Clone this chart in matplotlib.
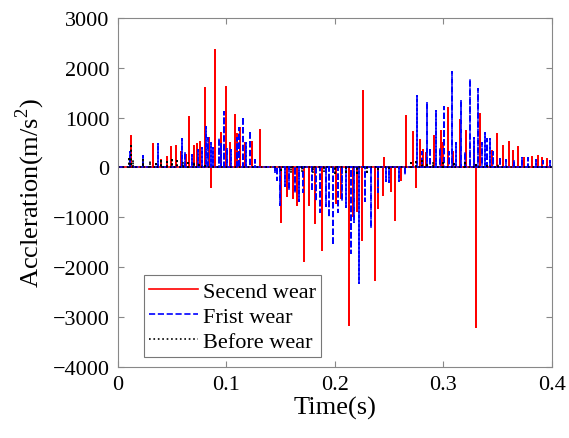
import numpy as np
import matplotlib
matplotlib.use('Agg')
import matplotlib.pyplot as plt

plt.rcParams['font.family'] = 'Liberation Serif'
plt.rcParams['mathtext.fontset'] = 'custom'
plt.rcParams['mathtext.rm'] = 'Liberation Serif'

# spike times (s) and peak values (m/s^2)
t_second = [0.012, 0.032, 0.040, 0.045, 0.049, 0.054, 0.058, 0.063, 0.066, 0.070, 0.073, 0.076,
            0.080, 0.084, 0.086, 0.090, 0.095, 0.0995, 0.103, 0.108, 0.110, 0.113, 0.117, 0.1235, 0.131,
            0.150, 0.156, 0.161, 0.165, 0.172, 0.176, 0.182, 0.188, 0.2015, 0.2055, 0.213, 0.2165,
            0.220, 0.225, 0.226, 0.237, 0.240, 0.244, 0.245, 0.252, 0.255, 0.261, 0.266, 0.272, 0.275,
            0.278, 0.281, 0.284, 0.291, 0.2975, 0.300, 0.304, 0.309, 0.315, 0.321, 0.328, 0.330,
            0.334, 0.345, 0.349, 0.355, 0.360, 0.364, 0.369, 0.374, 0.382, 0.387, 0.391, 0.395]
a_second = [640, 480, 150, 200, 420, 440, 300, 250, 1020, 440, 480, 520,
            1600, 600, -400, 2360, 700, 1620, 500, 1060, 680, 800, 500, 520, 760,
            -1100, -580, -620, -760, -1880, -760, -1120, -1660, -720, -620, -3160, -980,
            -880, -1460, 1540, -2260, -820, -560, 180, -480, -1060, -260, 1040, 720, -400,
            560, 340, 280, 640, 740, 500, 1200, 300, 960, 740, 380, -3200,
            1080, 320, 680, 440, 520, 320, 420, 180, 200, 220, 180, 160]

t_first = [0.011, 0.023, 0.037, 0.059, 0.062, 0.068, 0.074, 0.078, 0.081, 0.083, 0.086, 0.088,
           0.093, 0.095, 0.098, 0.101, 0.104, 0.110, 0.112, 0.115, 0.118, 0.122, 0.126,
           0.145, 0.147, 0.149, 0.154, 0.158, 0.163, 0.167, 0.171, 0.179, 0.183, 0.186, 0.192,
           0.195, 0.198, 0.203, 0.207, 0.210, 0.2145, 0.218, 0.222, 0.228, 0.233, 0.240, 0.247,
           0.250, 0.259, 0.265, 0.276, 0.280, 0.285, 0.288, 0.293, 0.297, 0.301, 0.305, 0.308,
           0.312, 0.316, 0.320, 0.3245, 0.328, 0.332, 0.336, 0.338, 0.340, 0.343, 0.346, 0.352,
           0.358, 0.365, 0.372, 0.378, 0.385, 0.392, 0.398]
a_first = [300, 220, 480, 580, 300, 250, 350, 400, 820, 600, 500, 400,
           600, 500, 1120, 400, 350, 600, 800, 1020, 500, 740, 150,
           -120, -260, -760, -380, -460, -520, -680, -500, -480, -680, -900, -780,
           -1000, -1560, -900, -680, -800, -1720, -1100, -2320, -680, -1220, -500, -280,
           -300, -280, -160, 1440, 300, 1320, 400, 1140, 400, 1220, 300, 1920,
           500, 1360, 300, 1780, 600, 1580, 500, 700, 580, 580, 300, 200,
           150, 150, 180, 180, 150, 120, 120]

t_before = [0.010, 0.012, 0.014, 0.023, 0.030, 0.035, 0.040, 0.045, 0.050, 0.055, 0.060, 0.065,
            0.070, 0.075, 0.080, 0.150, 0.160, 0.170, 0.180, 0.190, 0.200, 0.210, 0.220,
            0.230, 0.240, 0.250, 0.270, 0.275, 0.280, 0.285, 0.290, 0.300, 0.310, 0.320,
            0.330, 0.340, 0.350]
a_before = [200, 480, 150, 150, 120, 100, 120, 100, 150, 120, 100, 80,
            100, 80, 60, -100, -120, -100, -120, -100, -120, -100, -120,
            -100, -80, -60, 120, 100, 120, 80, 100, 80, 100, 80,
            80, 60, 60]

series = [
    ('Secend wear', t_second, a_second, 'red', '-'),
    ('Frist wear', t_first, a_first, 'blue', '--'),
    ('Before wear', t_before, a_before, 'black', ':'),
]


def spikes(t, a):
    # each spike rises from the zero baseline to its peak and back
    t = np.asarray(t)
    a = np.asarray(a, dtype=float)
    x = np.concatenate([[0.0], np.repeat(t, 3), [0.4]])
    y = np.concatenate([[0.0], np.column_stack([np.zeros_like(a), a, np.zeros_like(a)]).ravel(), [0.0]])
    return x, y


fig = plt.figure(figsize=(5.69, 4.39), dpi=100)
ax = fig.add_axes([0.207, 0.162, 0.763, 0.795])

for name, t, a, c, ls in series:
    x, y = spikes(t, a)
    ax.plot(x, y, color=c, linestyle=ls, linewidth=1.2, label=name)

ax.set_xlim(0, 0.4)
ax.set_ylim(-4000, 3000)
ax.set_xticks([0, 0.1, 0.2, 0.3, 0.4])
ax.set_xticklabels(['0', '0.1', '0.2', '0.3', '0.4'])
ax.set_yticks(np.arange(-4000, 3001, 1000))
ax.tick_params(direction='in', top=True, right=True, labelsize=16, length=4,
               color='#888888', pad=6)
for s in ax.spines.values():
    s.set_color('#888888')
    s.set_linewidth(0.8)

ax.set_xlabel('Time(s)', fontsize=19, labelpad=1)
ax.set_ylabel('Accleration(m/s$^2$)', fontsize=19, labelpad=4)

leg = ax.legend(loc='lower left', bbox_to_anchor=(0.06, 0.028), fontsize=16,
                frameon=True, fancybox=False, edgecolor='#555555', handlelength=2.2,
                handletextpad=0.2, borderpad=0.25, labelspacing=0.2, borderaxespad=0)
leg.get_frame().set_linewidth(0.8)

fig.savefig('out.png', dpi=100)
